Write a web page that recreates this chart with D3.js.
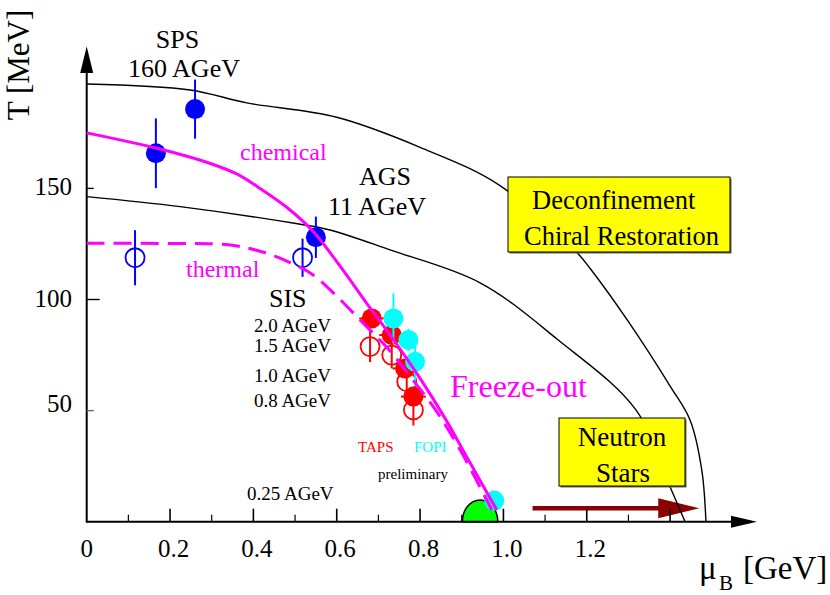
<!DOCTYPE html>
<html><head><meta charset="utf-8">
<script src="https://cdn.jsdelivr.net/npm/d3@7"></script>
<style>
body{margin:0;background:#fff}
svg{display:block}
text{font-family:"Liberation Serif","Times New Roman",Times,serif}
</style>
</head><body>
<svg id="c" width="830" height="595"></svg>
<script>
// ---------- data ----------
const xMajorTicks = [0.2, 0.4, 0.6, 0.8, 1.0, 1.2, 1.4];
const xMinorTicks = [0.1, 0.3, 0.5, 0.7, 0.9, 1.1, 1.3];
const xTickLabelValues = [0, 0.2, 0.4, 0.6, 0.8, 1.0, 1.2];
const xTickLabels = ["0", "0.2", "0.4", "0.6", "0.8", "1.0", "1.2"];
const yTickValues = [50, 100, 150];
const yTickLabels = ["50", "100", "150"];

// chemical freeze-out (solid magenta)
const chemMu = [0, 0.176, 0.30, 0.36, 0.42, 0.48, 0.544, 0.608, 0.672, 0.736, 0.80, 0.86, 0.92, 0.984];
const chemT  = [175, 167.7, 161, 156.5, 149.5, 141.5, 130.5, 115, 98.3, 82, 64.5, 46.5, 26.5, 5.3];
// thermal freeze-out (dashed magenta)
const thermMu = [0, 0.2, 0.34, 0.42, 0.48, 0.54, 0.60, 0.66, 0.72, 0.78, 0.84, 0.90, 0.972];
const thermT  = [125.3, 125.2, 124.6, 121.5, 117.3, 111.5, 101.5, 90, 78.5, 64.5, 49.5, 31, 5.3];
// phase boundaries (black)
const outerMu = [0, 0.248, 0.384, 0.6, 0.8, 0.99, 1.177, 1.21, 1.30, 1.40, 1.448, 1.476, 1.486];
const outerT  = [197, 194.3, 188.5, 182, 168.5, 151.5, 121, 113.5, 90, 61, 45.7, 23.3, 0];
const innerMu = [0, 0.224, 0.495, 0.584, 0.728, 0.944, 1.13, 1.318, 1.40, 1.436];
const innerT  = [146.3, 141.8, 134.4, 131.3, 122.3, 107.5, 82, 50.3, 15.6, 0];

// data points
const blueFilledMu  = [0.166, 0.26, 0.55];
const blueFilledT   = [165.8, 185.7, 128];
const blueFilledErr = [15.7, 13.3, 9.3];
const blueOpenMu  = [0.116, 0.518];
const blueOpenT   = [118.8, 118.8];
const blueOpenErr = [12.4, 8.6];
const redFilledMu   = [0.684, 0.732, 0.764, 0.784];
const redFilledT    = [91.5, 84, 69, 56.3];
const redFilledXErr = [0.03, 0.03, 0.03, 0.03];
const redOpenMu  = [0.68, 0.732, 0.768, 0.784];
const redOpenT   = [78.8, 75, 63, 50.3];
const redOpenErr = [7, 6, 7, 7];
const cyanMu  = [0.736, 0.772, 0.788, 0.978];
const cyanT   = [91.5, 81.8, 72, 9.5];
const cyanErr = [11.3, 5, 11, 0];

// nuclear matter ground state (green dome) and neutron-star arrow
const nuclearMu = 0.944, nuclearHalfWidth = 0.0425, nuclearHeight = 9.8;
const arrowMu = [1.07, 1.47], arrowT = 6.0;

// ---------- drawing ----------
const svg = d3.select("#c");
const x = d3.scaleLinear().domain([0, 1.4]).range([86.7, 670.1]);
const y = d3.scaleLinear().domain([0, 150]).range([521.7, 188.4]);

const zip = (a, b) => a.map((v, i) => [v, b[i]]);
const line = d3.line().x(d => x(d[0])).y(d => y(d[1])).curve(d3.curveCatmullRom.alpha(0.5));

// neutron star arrow
const ay = y(arrowT);
svg.append("line").attr("x1", x(arrowMu[0])).attr("x2", x(arrowMu[1]) - 38)
  .attr("y1", ay).attr("y2", ay).attr("stroke", "#8b0000").attr("stroke-width", 4.5);
svg.append("path")
  .attr("d", `M${x(arrowMu[1]) - 41},${ay - 10} L${x(arrowMu[1])},${ay} L${x(arrowMu[1]) - 41},${ay + 10} Z`)
  .attr("fill", "#8b0000");

// phase boundary curves
svg.append("path").attr("d", line(zip(outerMu, outerT))).attr("fill", "none")
  .attr("stroke", "#000").attr("stroke-width", 1.4);
svg.append("path").attr("d", line(zip(innerMu, innerT))).attr("fill", "none")
  .attr("stroke", "#000").attr("stroke-width", 1.4);

// boxes
function box(x0, y0, w, h) {
  svg.append("rect").attr("x", x0 + 1.5).attr("y", y0 + 1.5).attr("width", w).attr("height", h).attr("fill", "#666");
  svg.append("rect").attr("x", x0).attr("y", y0).attr("width", w).attr("height", h)
    .attr("fill", "#ffff00").attr("stroke", "#000").attr("stroke-width", 1);
}
box(508, 177, 222, 75);
box(559, 418, 126, 68);

function txt(s, px, py, size, color, anchor) {
  return svg.append("text").attr("x", px).attr("y", py).attr("font-size", size)
    .attr("fill", color || "#000").attr("text-anchor", anchor || "start").text(s);
}
txt("Deconfinement", 532, 209, 26.5);
txt("Chiral Restoration", 524, 245, 26.5);
txt("Neutron", 622, 446, 27, "#000", "middle");
txt("Stars", 623, 482, 27, "#000", "middle");

// green dome
const gx0 = x(nuclearMu - nuclearHalfWidth), gx1 = x(nuclearMu + nuclearHalfWidth);
const grx = (gx1 - gx0) / 2, gry = y(0) - y(nuclearHeight);
svg.append("path")
  .attr("d", `M${gx0},${y(0)} A${grx},${gry} 0 0 1 ${gx1},${y(0)} Z`)
  .attr("fill", "#00ff00").attr("stroke", "#000").attr("stroke-width", 1.5);

// axes
svg.append("line").attr("x1", x(0)).attr("x2", 734).attr("y1", y(0)).attr("y2", y(0))
  .attr("stroke", "#000").attr("stroke-width", 2);
svg.append("path").attr("d", `M731,${y(0) - 6} L757,${y(0)} L731,${y(0) + 6} Z`).attr("fill", "#000");
svg.append("line").attr("x1", x(0)).attr("x2", x(0)).attr("y1", y(0) + 1).attr("y2", 70)
  .attr("stroke", "#000").attr("stroke-width", 2);
svg.append("path").attr("d", `M${x(0) - 6.5},73 L${x(0)},46.5 L${x(0) + 6.5},73 Z`).attr("fill", "#000");

svg.selectAll(".xmaj").data(xMajorTicks).enter().append("line")
  .attr("x1", d => x(d)).attr("x2", d => x(d)).attr("y1", y(0)).attr("y2", y(0) - 13)
  .attr("stroke", "#000").attr("stroke-width", 1.6);
svg.selectAll(".xmin").data(xMinorTicks).enter().append("line")
  .attr("x1", d => x(d)).attr("x2", d => x(d)).attr("y1", y(0)).attr("y2", y(0) - 7)
  .attr("stroke", "#000").attr("stroke-width", 1.2);
svg.selectAll(".xl").data(xTickLabelValues).enter().append("text")
  .attr("x", (d, i) => x(d) + (i === 0 ? 0 : 3.5)).attr("y", 556.5)
  .attr("text-anchor", "middle").attr("font-size", 25).text((d, i) => xTickLabels[i]);

svg.selectAll(".ytk").data(yTickValues).enter().append("line")
  .attr("x1", x(0)).attr("x2", d => x(0) + (d === 100 ? 13 : 7)).attr("y1", d => y(d)).attr("y2", d => y(d))
  .attr("stroke", d => d === 50 ? "#666" : "#000").attr("stroke-width", 1.4);
svg.selectAll(".yl").data(yTickValues).enter().append("text")
  .attr("x", 72).attr("y", d => y(d) + (d === 50 ? 1.5 : 7))
  .attr("text-anchor", "end").attr("font-size", 25).text((d, i) => yTickLabels[i]);

// axis titles
svg.append("text").attr("transform", "translate(28.5,65) rotate(-90)").attr("text-anchor", "middle")
  .attr("font-size", 31).text("T [MeV]");
txt("μ", 699, 579, 33);
txt("B", 719, 590, 21);
txt("[GeV]", 743, 579, 33);

// data points
function points(mu, T, color, filled, err, xerr) {
  const g = svg.append("g");
  mu.forEach((m, i) => {
    if (err && err[i] > 0) {
      g.append("line").attr("x1", x(m)).attr("x2", x(m)).attr("y1", y(T[i] - err[i])).attr("y2", y(T[i] + err[i]))
        .attr("stroke", color).attr("stroke-width", 2);
    }
    if (xerr && xerr[i] > 0) {
      g.append("line").attr("x1", x(m - xerr[i])).attr("x2", x(m + xerr[i])).attr("y1", y(T[i])).attr("y2", y(T[i]))
        .attr("stroke", color).attr("stroke-width", 2);
    }
    g.append("circle").attr("cx", x(m)).attr("cy", y(T[i])).attr("r", filled ? 10 : 9.5)
      .attr("fill", filled ? color : "none").attr("stroke", color).attr("stroke-width", filled ? 0 : 1.8);
  });
}
points(blueFilledMu, blueFilledT, "#0000ff", true, blueFilledErr);
points(blueOpenMu, blueOpenT, "#0000ff", false, blueOpenErr);
points(redFilledMu, redFilledT, "#ff0000", true, null, redFilledXErr);
points(redOpenMu, redOpenT, "#ff0000", false, redOpenErr);
points(cyanMu, cyanT, "#00ffff", true, cyanErr);

// freeze-out curves
svg.append("path").attr("d", line(zip(thermMu, thermT))).attr("fill", "none")
  .attr("stroke", "#ff00ff").attr("stroke-width", 3).attr("stroke-dasharray", "18,9");
svg.append("path").attr("d", line(zip(chemMu, chemT))).attr("fill", "none")
  .attr("stroke", "#ff00ff").attr("stroke-width", 3);

// labels
txt("SPS", 177.5, 48, 26, "#000", "middle");
txt("160 AGeV", 184, 76.5, 26, "#000", "middle");
txt("chemical", 240, 160, 24, "#ff00ff");
txt("AGS", 385, 185, 26, "#000", "middle");
txt("11 AGeV", 377, 215, 26, "#000", "middle");
txt("thermal", 186, 276.5, 24, "#ff00ff");
txt("SIS", 269, 307, 26);
txt("2.0 AGeV", 331, 332, 19, "#000", "end");
txt("1.5 AGeV", 331, 352, 19, "#000", "end");
txt("1.0 AGeV", 331, 382, 19, "#000", "end");
txt("0.8 AGeV", 331, 407, 19, "#000", "end");
txt("0.25 AGeV", 247, 500, 19);
txt("Freeze-out", 450, 397, 32, "#ff00ff");
txt("TAPS", 358, 452, 15, "#ff0000");
txt("FOPI", 414, 452, 15, "#00ffff");
txt("preliminary", 378, 479, 15);
</script>
</body></html>
